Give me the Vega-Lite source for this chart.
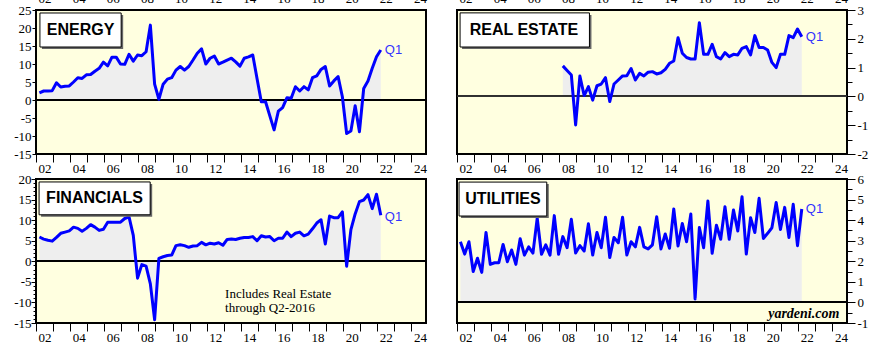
{
"$schema":"https://vega.github.io/schema/vega-lite/v6.json",
"padding":{"left":12,"top":-9,"right":5,"bottom":5},
"background":"#ffffff",
"config":{
 "view":{"fill":"#FFFFE0","stroke":"#000000","strokeWidth":2},
 "axis":{"domain":false,"grid":false,"labelFont":"Liberation Serif","labelFontSize":13,"labelColor":"#000000","tickColor":"#000000","tickWidth":1,"labelFlush":false,"labelOverlap":false,"labelBound":false}
},
"datasets":{
"energy":[
{"t":2002.2,"v":2.0},{"t":2002.45,"v":2.5},{"t":2002.7,"v":2.5},{"t":2002.95,"v":2.6},
{"t":2003.2,"v":4.8},{"t":2003.45,"v":3.6},{"t":2003.7,"v":3.8},{"t":2003.95,"v":3.9},
{"t":2004.2,"v":5.0},{"t":2004.45,"v":6.2},{"t":2004.7,"v":6.0},{"t":2004.95,"v":7.0},
{"t":2005.2,"v":7.1},{"t":2005.45,"v":8.0},{"t":2005.7,"v":8.8},{"t":2005.95,"v":10.5},
{"t":2006.2,"v":9.5},{"t":2006.45,"v":11.9},{"t":2006.7,"v":11.9},{"t":2006.95,"v":10.0},
{"t":2007.2,"v":9.9},{"t":2007.45,"v":12.7},{"t":2007.7,"v":10.8},{"t":2007.95,"v":12.5},
{"t":2008.2,"v":12.3},{"t":2008.45,"v":13.4},{"t":2008.7,"v":20.8},{"t":2008.95,"v":4.4},
{"t":2009.2,"v":0.2},{"t":2009.45,"v":4.4},{"t":2009.7,"v":5.8},{"t":2009.95,"v":6.2},
{"t":2010.2,"v":8.3},{"t":2010.45,"v":9.3},{"t":2010.7,"v":8.3},{"t":2010.95,"v":9.3},
{"t":2011.2,"v":11.1},{"t":2011.45,"v":13.0},{"t":2011.7,"v":14.2},{"t":2011.95,"v":10.0},
{"t":2012.2,"v":11.6},{"t":2012.45,"v":12.2},{"t":2012.7,"v":10.0},{"t":2012.95,"v":10.5},
{"t":2013.2,"v":11.1},{"t":2013.45,"v":11.6},{"t":2013.7,"v":10.6},{"t":2013.95,"v":9.4},
{"t":2014.2,"v":11.6},{"t":2014.45,"v":12.0},{"t":2014.7,"v":12.5},{"t":2014.95,"v":6.0},
{"t":2015.2,"v":-0.5},{"t":2015.45,"v":-0.5},{"t":2015.7,"v":-4.4},{"t":2015.95,"v":-8.3},
{"t":2016.2,"v":-3.1},{"t":2016.45,"v":-2.1},{"t":2016.7,"v":0.6},{"t":2016.95,"v":0.5},
{"t":2017.2,"v":3.7},{"t":2017.45,"v":2.5},{"t":2017.7,"v":3.7},{"t":2017.95,"v":2.8},
{"t":2018.2,"v":6.2},{"t":2018.45,"v":6.7},{"t":2018.7,"v":8.5},{"t":2018.95,"v":9.3},
{"t":2019.2,"v":3.9},{"t":2019.45,"v":5.3},{"t":2019.7,"v":6.5},{"t":2019.95,"v":0.9},
{"t":2020.2,"v":-9.3},{"t":2020.45,"v":-8.6},{"t":2020.7,"v":-1.6},{"t":2020.95,"v":-8.8},
{"t":2021.2,"v":3.2},{"t":2021.45,"v":5.3},{"t":2021.7,"v":8.8},{"t":2021.95,"v":12.0},
{"t":2022.2,"v":13.9}
],
"financials":[
{"t":2002.2,"v":5.9},{"t":2002.45,"v":5.4},{"t":2002.7,"v":5.1},{"t":2002.95,"v":4.9},
{"t":2003.2,"v":5.8},{"t":2003.45,"v":6.8},{"t":2003.7,"v":7.1},{"t":2003.95,"v":7.4},
{"t":2004.2,"v":8.3},{"t":2004.45,"v":8.0},{"t":2004.7,"v":7.3},{"t":2004.95,"v":8.0},
{"t":2005.2,"v":8.9},{"t":2005.45,"v":8.3},{"t":2005.7,"v":7.5},{"t":2005.95,"v":7.8},
{"t":2006.2,"v":9.5},{"t":2006.45,"v":9.5},{"t":2006.7,"v":9.5},{"t":2006.95,"v":9.5},
{"t":2007.2,"v":10.4},{"t":2007.45,"v":10.8},{"t":2007.7,"v":6.3},{"t":2007.95,"v":-4.1},
{"t":2008.2,"v":-0.8},{"t":2008.45,"v":-1.2},{"t":2008.7,"v":-5.5},{"t":2008.95,"v":-14.2},
{"t":2009.2,"v":0.7},{"t":2009.45,"v":1.1},{"t":2009.7,"v":1.4},{"t":2009.95,"v":1.5},
{"t":2010.2,"v":3.8},{"t":2010.45,"v":4.0},{"t":2010.7,"v":3.8},{"t":2010.95,"v":3.4},
{"t":2011.2,"v":3.7},{"t":2011.45,"v":3.8},{"t":2011.7,"v":4.6},{"t":2011.95,"v":4.0},
{"t":2012.2,"v":4.4},{"t":2012.45,"v":4.2},{"t":2012.7,"v":4.5},{"t":2012.95,"v":3.9},
{"t":2013.2,"v":5.3},{"t":2013.45,"v":5.4},{"t":2013.7,"v":5.3},{"t":2013.95,"v":5.6},
{"t":2014.2,"v":5.8},{"t":2014.45,"v":5.8},{"t":2014.7,"v":6.0},{"t":2014.95,"v":5.0},
{"t":2015.2,"v":6.2},{"t":2015.45,"v":5.9},{"t":2015.7,"v":6.0},{"t":2015.95,"v":5.0},
{"t":2016.2,"v":5.6},{"t":2016.45,"v":5.6},{"t":2016.7,"v":7.1},{"t":2016.95,"v":6.0},
{"t":2017.2,"v":6.8},{"t":2017.45,"v":7.1},{"t":2017.7,"v":6.2},{"t":2017.95,"v":6.6},
{"t":2018.2,"v":7.9},{"t":2018.45,"v":9.3},{"t":2018.7,"v":10.1},{"t":2018.95,"v":4.2},
{"t":2019.2,"v":11.0},{"t":2019.45,"v":10.6},{"t":2019.7,"v":10.6},{"t":2019.95,"v":12.0},
{"t":2020.2,"v":-1.2},{"t":2020.45,"v":7.7},{"t":2020.7,"v":11.5},{"t":2020.95,"v":14.5},
{"t":2021.2,"v":14.9},{"t":2021.45,"v":16.2},{"t":2021.7,"v":12.8},{"t":2021.95,"v":16.3},
{"t":2022.2,"v":11.2}
],
"realestate":[
{"t":2008.2,"v":1.06},{"t":2008.45,"v":0.9},{"t":2008.7,"v":0.74},{"t":2008.95,"v":-0.99},
{"t":2009.2,"v":0.71},{"t":2009.45,"v":0.03},{"t":2009.7,"v":0.34},{"t":2009.95,"v":-0.13},
{"t":2010.2,"v":0.37},{"t":2010.45,"v":0.43},{"t":2010.7,"v":0.65},{"t":2010.95,"v":-0.18},
{"t":2011.2,"v":0.43},{"t":2011.45,"v":0.57},{"t":2011.7,"v":0.71},{"t":2011.95,"v":0.72},
{"t":2012.2,"v":0.97},{"t":2012.45,"v":0.57},{"t":2012.7,"v":0.8},{"t":2012.95,"v":0.71},
{"t":2013.2,"v":0.84},{"t":2013.45,"v":0.86},{"t":2013.7,"v":0.78},{"t":2013.95,"v":0.82},
{"t":2014.2,"v":0.94},{"t":2014.45,"v":1.15},{"t":2014.7,"v":1.23},{"t":2014.95,"v":2.04},
{"t":2015.2,"v":1.5},{"t":2015.45,"v":1.35},{"t":2015.7,"v":1.3},{"t":2015.95,"v":1.3},
{"t":2016.2,"v":2.56},{"t":2016.45,"v":1.46},{"t":2016.7,"v":1.46},{"t":2016.95,"v":1.81},
{"t":2017.2,"v":1.38},{"t":2017.45,"v":1.3},{"t":2017.7,"v":1.52},{"t":2017.95,"v":1.38},
{"t":2018.2,"v":1.46},{"t":2018.45,"v":1.44},{"t":2018.7,"v":1.67},{"t":2018.95,"v":1.73},
{"t":2019.2,"v":1.44},{"t":2019.45,"v":2.11},{"t":2019.7,"v":1.7},{"t":2019.95,"v":1.7},
{"t":2020.2,"v":1.61},{"t":2020.45,"v":1.18},{"t":2020.7,"v":1.0},{"t":2020.95,"v":1.46},
{"t":2021.2,"v":1.46},{"t":2021.45,"v":2.11},{"t":2021.7,"v":2.04},{"t":2021.95,"v":2.34},
{"t":2022.2,"v":2.07}
],
"utilities":[
{"t":2002.2,"v":2.95},{"t":2002.45,"v":2.35},{"t":2002.7,"v":2.95},{"t":2002.95,"v":1.5},
{"t":2003.2,"v":2.15},{"t":2003.45,"v":1.46},{"t":2003.7,"v":3.4},{"t":2003.95,"v":1.85},
{"t":2004.2,"v":1.93},{"t":2004.45,"v":1.93},{"t":2004.7,"v":2.82},{"t":2004.95,"v":1.98},
{"t":2005.2,"v":2.55},{"t":2005.45,"v":1.85},{"t":2005.7,"v":3.1},{"t":2005.95,"v":2.3},
{"t":2006.2,"v":2.7},{"t":2006.45,"v":2.4},{"t":2006.7,"v":4.1},{"t":2006.95,"v":2.34},
{"t":2007.2,"v":2.8},{"t":2007.45,"v":2.3},{"t":2007.7,"v":4.22},{"t":2007.95,"v":2.34},
{"t":2008.2,"v":3.2},{"t":2008.45,"v":2.66},{"t":2008.7,"v":4.04},{"t":2008.95,"v":2.4},
{"t":2009.2,"v":2.76},{"t":2009.45,"v":2.5},{"t":2009.7,"v":3.82},{"t":2009.95,"v":2.3},
{"t":2010.2,"v":3.4},{"t":2010.45,"v":2.66},{"t":2010.7,"v":4.14},{"t":2010.95,"v":2.18},
{"t":2011.2,"v":3.16},{"t":2011.45,"v":2.9},{"t":2011.7,"v":4.14},{"t":2011.95,"v":2.3},
{"t":2012.2,"v":2.95},{"t":2012.45,"v":2.7},{"t":2012.7,"v":3.65},{"t":2012.95,"v":2.7},
{"t":2013.2,"v":2.6},{"t":2013.45,"v":2.8},{"t":2013.7,"v":4.17},{"t":2013.95,"v":2.6},
{"t":2014.2,"v":3.33},{"t":2014.45,"v":2.63},{"t":2014.7,"v":4.54},{"t":2014.95,"v":2.74},
{"t":2015.2,"v":3.84},{"t":2015.45,"v":2.95},{"t":2015.7,"v":4.3},{"t":2015.95,"v":0.17},
{"t":2016.2,"v":3.64},{"t":2016.45,"v":2.66},{"t":2016.7,"v":4.93},{"t":2016.95,"v":2.39},
{"t":2017.2,"v":3.75},{"t":2017.45,"v":3.07},{"t":2017.7,"v":4.65},{"t":2017.95,"v":3.07},
{"t":2018.2,"v":4.49},{"t":2018.45,"v":3.47},{"t":2018.7,"v":5.14},{"t":2018.95,"v":2.35},
{"t":2019.2,"v":4.12},{"t":2019.45,"v":3.4},{"t":2019.7,"v":5.06},{"t":2019.95,"v":3.11},
{"t":2020.2,"v":3.36},{"t":2020.45,"v":3.63},{"t":2020.7,"v":4.86},{"t":2020.95,"v":3.55},
{"t":2021.2,"v":4.62},{"t":2021.45,"v":3.16},{"t":2021.7,"v":4.77},{"t":2021.95,"v":2.76},
{"t":2022.2,"v":4.54}
]
},
"columns":2,
"spacing":{"row":25,"column":31},
"bounds":"flush",
"concat":[
{
 "width":390,"height":144,
 "data":{"name":"energy"},
 "layer":[
  {"mark":{"type":"area","color":"#EEEEEE"},
   "encoding":{
    "x":{"field":"t","type":"quantitative","scale":{"domain":[2002,2024.85],"nice":false,"zero":false},"title":null,
     "axis":{"orient":"top","values":[2002,2003,2004,2005,2006,2007,2008,2009,2010,2011,2012,2013,2014,2015,2016,2017,2018,2019,2020,2021,2022,2023,2024],"ticks":false,"labelPadding":5,"labelOffset":8.5,"labelExpr":"datum.value % 2 == 0 ? slice(toString(datum.value), 2) : ''","title":null}},
    "y":{"field":"v","type":"quantitative","scale":{"domain":[-15,25],"nice":false,"zero":false},"axis":null},
    "y2":{"datum":0}}},
  {"mark":{"type":"rule","color":"#000000","strokeWidth":1},"encoding":{"y":{"datum":0,"type":"quantitative","axis":null}}},
  {"mark":{"type":"line","color":"#0000FF","strokeWidth":3,"strokeJoin":"round"},
   "encoding":{
    "x":{"field":"t","type":"quantitative","title":null,
     "axis":{"orient":"bottom","values":[2002,2003,2004,2005,2006,2007,2008,2009,2010,2011,2012,2013,2014,2015,2016,2017,2018,2019,2020,2021,2022,2023,2024],"tickSize":8,"labelPadding":0,"labelOffset":8.5,"labelExpr":"datum.value % 2 == 0 ? slice(toString(datum.value), 2) : ''","title":null}},
    "y":{"field":"v","type":"quantitative","title":null,
     "axis":{"orient":"left","values":[-15,-10,-5,0,5,10,15,20,25],"tickSize":4,"labelPadding":1,"labelExpr":"'' + datum.value","title":null}}}},
  {"transform":[{"filter":"datum.t == 2022.2"}],
   "mark":{"type":"text","align":"left","baseline":"middle","dx":4,"font":"Liberation Sans","fontSize":13,"color":"#3333FF"},
   "encoding":{"x":{"field":"t","type":"quantitative","axis":null},"y":{"field":"v","type":"quantitative","axis":null},"text":{"value":"Q1"}}},
  {"data":{"values":[{}]},"mark":{"type":"rect","color":"#666666","xOffset":2,"x2Offset":2,"yOffset":2,"y2Offset":2},
   "encoding":{"x":{"datum":2002.23,"axis":null},"x2":{"datum":2006.99},"y":{"datum":24.17,"axis":null},"y2":{"datum":14.72}}},
  {"data":{"values":[{}]},"mark":{"type":"rect","fill":"#FFFFFF","stroke":"#000000","strokeWidth":1},
   "encoding":{"x":{"datum":2002.23,"axis":null},"x2":{"datum":2006.99},"y":{"datum":24.17,"axis":null},"y2":{"datum":14.72}}},
  {"data":{"values":[{}]},"mark":{"type":"text","font":"Liberation Sans","fontWeight":"bold","fontSize":16,"align":"center","baseline":"middle","color":"#000000"},
   "encoding":{"x":{"datum":2004.61,"axis":null},"y":{"datum":19.44,"axis":null},"text":{"value":"ENERGY"}}}
 ],
 "resolve":{"axis":{"x":"independent","y":"independent"}}
},
{
 "width":390,"height":144,
 "data":{"name":"realestate"},
 "layer":[
  {"mark":{"type":"area","color":"#EEEEEE"},
   "encoding":{
    "x":{"field":"t","type":"quantitative","scale":{"domain":[2002,2024.85],"nice":false,"zero":false},"title":null,
     "axis":{"orient":"top","values":[2002,2003,2004,2005,2006,2007,2008,2009,2010,2011,2012,2013,2014,2015,2016,2017,2018,2019,2020,2021,2022,2023,2024],"ticks":false,"labelPadding":5,"labelOffset":8.5,"labelExpr":"datum.value % 2 == 0 ? slice(toString(datum.value), 2) : ''","title":null}},
    "y":{"field":"v","type":"quantitative","scale":{"domain":[-2,3],"nice":false,"zero":false},"title":null,
     "axis":{"orient":"right","values":[-1.5,-0.5,0.5,1.5,2.5],"tickSize":5,"labels":false,"title":null}},
    "y2":{"datum":0}}},
  {"mark":{"type":"rule","color":"#333333","strokeWidth":1},"encoding":{"y":{"datum":0,"type":"quantitative","axis":null}}},
  {"mark":{"type":"line","color":"#0000FF","strokeWidth":3,"strokeJoin":"round"},
   "encoding":{
    "x":{"field":"t","type":"quantitative","title":null,
     "axis":{"orient":"bottom","values":[2002,2003,2004,2005,2006,2007,2008,2009,2010,2011,2012,2013,2014,2015,2016,2017,2018,2019,2020,2021,2022,2023,2024],"tickSize":8,"labelPadding":0,"labelOffset":8.5,"labelExpr":"datum.value % 2 == 0 ? slice(toString(datum.value), 2) : ''","title":null}},
    "y":{"field":"v","type":"quantitative","title":null,
     "axis":{"orient":"right","values":[-2,-1,0,1,2,3],"tickSize":8,"labelPadding":2,"labelExpr":"'' + datum.value","title":null}}}},
  {"transform":[{"filter":"datum.t == 2022.2"}],
   "mark":{"type":"text","align":"left","baseline":"middle","dx":4,"font":"Liberation Sans","fontSize":13,"color":"#3333FF"},
   "encoding":{"x":{"field":"t","type":"quantitative","axis":null},"y":{"field":"v","type":"quantitative","axis":null},"text":{"value":"Q1"}}},
  {"data":{"values":[{}]},"mark":{"type":"rect","color":"#666666","xOffset":2,"x2Offset":2,"yOffset":2,"y2Offset":2},
   "encoding":{"x":{"datum":2002.18,"axis":null},"x2":{"datum":2009.76},"y":{"datum":2.9,"axis":null},"y2":{"datum":1.715}}},
  {"data":{"values":[{}]},"mark":{"type":"rect","fill":"#FFFFFF","stroke":"#000000","strokeWidth":1},
   "encoding":{"x":{"datum":2002.18,"axis":null},"x2":{"datum":2009.76},"y":{"datum":2.9,"axis":null},"y2":{"datum":1.715}}},
  {"data":{"values":[{}]},"mark":{"type":"text","font":"Liberation Sans","fontWeight":"bold","fontSize":16,"align":"center","baseline":"middle","color":"#000000"},
   "encoding":{"x":{"datum":2005.92,"axis":null},"y":{"datum":2.31,"axis":null},"text":{"value":"REAL ESTATE"}}}
 ],
 "resolve":{"axis":{"x":"independent","y":"independent"}}
},
{
 "width":390,"height":144,
 "data":{"name":"financials"},
 "layer":[
  {"mark":{"type":"area","color":"#EEEEEE"},
   "encoding":{
    "x":{"field":"t","type":"quantitative","scale":{"domain":[2002,2024.85],"nice":false,"zero":false},"axis":null},
    "y":{"field":"v","type":"quantitative","scale":{"domain":[-15,20],"nice":false,"zero":false},"title":null,
     "axis":{"orient":"left","values":[-14,-13,-12,-11,-9,-8,-7,-6,-4,-3,-2,-1,1,2,3,4,6,7,8,9,11,12,13,14,16,17,18,19],"tickSize":3,"labels":false,"title":null}},
    "y2":{"datum":0}}},
  {"mark":{"type":"rule","color":"#000000","strokeWidth":1},"encoding":{"y":{"datum":0,"type":"quantitative","axis":null}}},
  {"mark":{"type":"line","color":"#0000FF","strokeWidth":3,"strokeJoin":"round"},
   "encoding":{
    "x":{"field":"t","type":"quantitative","title":null,
     "axis":{"orient":"bottom","values":[2002,2003,2004,2005,2006,2007,2008,2009,2010,2011,2012,2013,2014,2015,2016,2017,2018,2019,2020,2021,2022,2023,2024],"tickSize":8,"labelPadding":0,"labelOffset":8.5,"labelExpr":"datum.value % 2 == 0 ? slice(toString(datum.value), 2) : ''","title":null}},
    "y":{"field":"v","type":"quantitative","title":null,
     "axis":{"orient":"left","values":[-15,-10,-5,0,5,10,15,20],"tickSize":5,"labelPadding":0,"labelExpr":"'' + datum.value","title":null}}}},
  {"transform":[{"filter":"datum.t == 2022.2"}],
   "mark":{"type":"text","align":"left","baseline":"middle","dx":4,"dy":2,"font":"Liberation Sans","fontSize":13,"color":"#3333FF"},
   "encoding":{"x":{"field":"t","type":"quantitative","axis":null},"y":{"field":"v","type":"quantitative","axis":null},"text":{"value":"Q1"}}},
  {"data":{"values":[{}]},"mark":{"type":"rect","color":"#666666","xOffset":2,"x2Offset":2,"yOffset":2,"y2Offset":2},
   "encoding":{"x":{"datum":2002.18,"axis":null},"x2":{"datum":2008.69},"y":{"datum":19.28,"axis":null},"y2":{"datum":11.3}}},
  {"data":{"values":[{}]},"mark":{"type":"rect","fill":"#FFFFFF","stroke":"#000000","strokeWidth":1},
   "encoding":{"x":{"datum":2002.18,"axis":null},"x2":{"datum":2008.69},"y":{"datum":19.28,"axis":null},"y2":{"datum":11.3}}},
  {"data":{"values":[{}]},"mark":{"type":"text","font":"Liberation Sans","fontWeight":"bold","fontSize":16,"align":"center","baseline":"middle","color":"#000000"},
   "encoding":{"x":{"datum":2005.43,"axis":null},"y":{"datum":15.29,"axis":null},"text":{"value":"FINANCIALS"}}},
  {"data":{"values":[{}]},"mark":{"type":"text","font":"Liberation Serif","fontSize":13,"align":"left","baseline":"middle","lineHeight":14,"color":"#000000"},
   "encoding":{"x":{"datum":2013.08,"axis":null},"y":{"datum":-7.9,"axis":null},"text":{"value":["Includes Real Estate","through Q2-2016"]}}}
 ],
 "resolve":{"axis":{"x":"independent","y":"independent"}}
},
{
 "width":390,"height":144,
 "data":{"name":"utilities"},
 "layer":[
  {"mark":{"type":"area","color":"#EEEEEE"},
   "encoding":{
    "x":{"field":"t","type":"quantitative","scale":{"domain":[2002,2024.85],"nice":false,"zero":false},"axis":null},
    "y":{"field":"v","type":"quantitative","scale":{"domain":[-1,6],"nice":false,"zero":false},"title":null,
     "axis":{"orient":"right","values":[-0.5,0.5,1.5,2.5,3.5,4.5,5.5],"tickSize":5,"labels":false,"title":null}},
    "y2":{"datum":0}}},
  {"mark":{"type":"rule","color":"#000000","strokeWidth":1},"encoding":{"y":{"datum":0,"type":"quantitative","axis":null}}},
  {"mark":{"type":"line","color":"#0000FF","strokeWidth":3,"strokeJoin":"round"},
   "encoding":{
    "x":{"field":"t","type":"quantitative","title":null,
     "axis":{"orient":"bottom","values":[2002,2003,2004,2005,2006,2007,2008,2009,2010,2011,2012,2013,2014,2015,2016,2017,2018,2019,2020,2021,2022,2023,2024],"tickSize":8,"labelPadding":0,"labelOffset":8.5,"labelExpr":"datum.value % 2 == 0 ? slice(toString(datum.value), 2) : ''","title":null}},
    "y":{"field":"v","type":"quantitative","title":null,
     "axis":{"orient":"right","values":[-1,0,1,2,3,4,5,6],"tickSize":8,"labelPadding":2,"labelExpr":"'' + datum.value","title":null}}}},
  {"transform":[{"filter":"datum.t == 2022.2"}],
   "mark":{"type":"text","align":"left","baseline":"middle","dx":4,"font":"Liberation Sans","fontSize":13,"color":"#3333FF"},
   "encoding":{"x":{"field":"t","type":"quantitative","axis":null},"y":{"field":"v","type":"quantitative","axis":null},"text":{"value":"Q1"}}},
  {"data":{"values":[{}]},"mark":{"type":"rect","color":"#666666","xOffset":2,"x2Offset":2,"yOffset":2,"y2Offset":2},
   "encoding":{"x":{"datum":2002.12,"axis":null},"x2":{"datum":2007.26},"y":{"datum":5.85,"axis":null},"y2":{"datum":4.2}}},
  {"data":{"values":[{}]},"mark":{"type":"rect","fill":"#FFFFFF","stroke":"#000000","strokeWidth":1},
   "encoding":{"x":{"datum":2002.12,"axis":null},"x2":{"datum":2007.26},"y":{"datum":5.85,"axis":null},"y2":{"datum":4.2}}},
  {"data":{"values":[{}]},"mark":{"type":"text","font":"Liberation Sans","fontWeight":"bold","fontSize":16,"align":"center","baseline":"middle","color":"#000000"},
   "encoding":{"x":{"datum":2004.69,"axis":null},"y":{"datum":5.03,"axis":null},"text":{"value":"UTILITIES"}}},
  {"data":{"values":[{}]},"mark":{"type":"text","font":"Liberation Serif","fontWeight":"bold","fontStyle":"italic","fontSize":14,"align":"right","baseline":"middle","color":"#000000"},
   "encoding":{"x":{"datum":2024.4,"axis":null},"y":{"datum":-0.56,"axis":null},"text":{"value":"yardeni.com"}}}
 ],
 "resolve":{"axis":{"x":"independent","y":"independent"}}
}
]
}
